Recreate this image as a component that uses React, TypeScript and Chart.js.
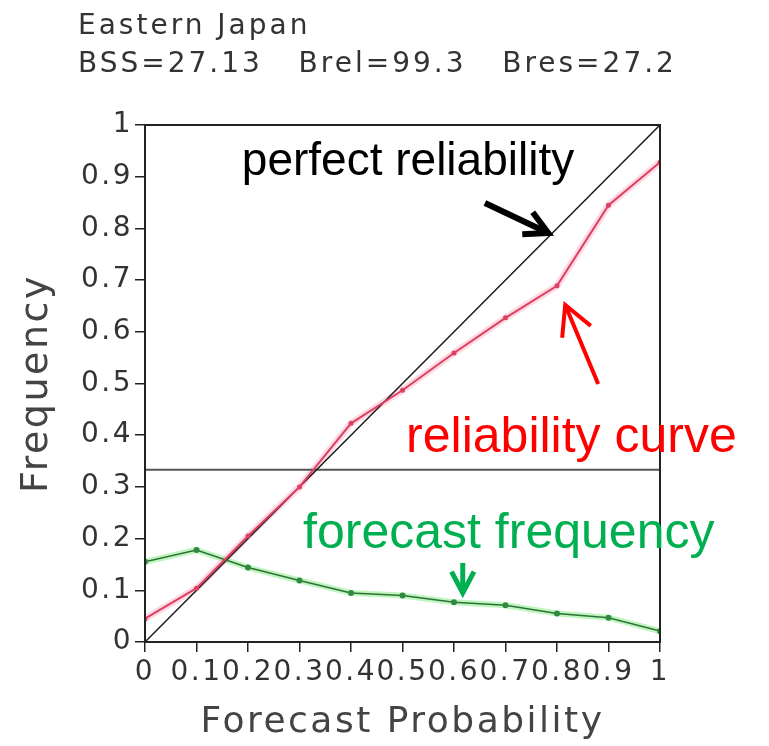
import React, { useEffect, useRef } from 'react';
import { Chart, registerables } from 'chart.js';

Chart.register(...registerables);

// ---- data ----
const probabilityBins = [0, 0.1, 0.2, 0.3, 0.4, 0.5, 0.6, 0.7, 0.8, 0.9, 1];
const observedFrequency = [0.045, 0.104, 0.205, 0.3, 0.423, 0.487, 0.559, 0.627, 0.689, 0.845, 0.928];
const forecastFrequency = [0.155, 0.178, 0.144, 0.119, 0.095, 0.09, 0.077, 0.071, 0.055, 0.047, 0.021];
const perfectX = [0, 1];
const perfectY = [0, 1];
const climatologyX = [0, 1];
const climatologyY = [0.333, 0.333];
const xTickLabels = ['0', '0.1', '0.2', '0.3', '0.4', '0.5', '0.6', '0.7', '0.8', '0.9', '1'];
const yTickLabels = ['0', '0.1', '0.2', '0.3', '0.4', '0.5', '0.6', '0.7', '0.8', '0.9', '1'];
const titleLines = ['Eastern Japan', 'BSS=27.13   Brel=99.3   Bres=27.2'];
const xAxisTitle = 'Forecast Probability';
const yAxisTitle = 'Frequency';

// ---- annotation layout (data units) ----
const annotationTexts = [
  { text: 'perfect reliability', x: 0.188, y: 0.903, color: '#000000', size: 46 },
  { text: 'reliability curve', x: 0.507, y: 0.368, color: '#ff0000', size: 50 },
  { text: 'forecast frequency', x: 0.307, y: 0.182, color: '#00b050', size: 50 },
];
const annotationArrows = [
  { from: [0.66, 0.849], to: [0.783, 0.791], color: '#000000', width: 6, head: 26 },
  { from: [0.88, 0.499], to: [0.816, 0.652], color: '#ff0000', width: 4, head: 33 },
  { from: [0.617, 0.153], to: [0.617, 0.095], color: '#00b050', width: 5, head: 24 },
];

const GRADS_FONT = "'DejaVu Sans', sans-serif";
const ANNOT_FONT = "'Liberation Sans', Arial, sans-serif";

const pairs = (xs: number[], ys: number[]) => xs.map((x, i) => ({ x, y: ys[i] }));

function drawArrow(ctx: CanvasRenderingContext2D, x1: number, y1: number, x2: number, y2: number,
  color: string, width: number, headLen: number) {
  const a = (28 * Math.PI) / 180;
  ctx.strokeStyle = color;
  ctx.lineWidth = width;
  ctx.lineCap = 'butt';
  ctx.lineJoin = 'miter';
  ctx.beginPath();
  ctx.moveTo(x1, y1);
  ctx.lineTo(x2, y2);
  ctx.stroke();
  const ang = Math.atan2(y1 - y2, x1 - x2);
  ctx.beginPath();
  ctx.moveTo(x2 + headLen * Math.cos(ang + a), y2 + headLen * Math.sin(ang + a));
  ctx.lineTo(x2, y2);
  ctx.lineTo(x2 + headLen * Math.cos(ang - a), y2 + headLen * Math.sin(ang - a));
  ctx.stroke();
}

const decorPlugin = {
  id: 'decor',
  beforeUpdate(chart: any) {
    chart.ctx.letterSpacing = '2.5px';
  },
  beforeDraw(chart: any) {
    chart.ctx.letterSpacing = '2.5px';
  },
  afterDraw(chart: any) {
    const { ctx, chartArea: ca, scales } = chart;
    const xs = scales.x;
    const ys = scales.y;
    ctx.save();
    ctx.letterSpacing = '0px';
    // frame
    ctx.strokeStyle = '#222222';
    ctx.lineWidth = 2;
    ctx.strokeRect(ca.left, ca.top, ca.right - ca.left, ca.bottom - ca.top);
    // header lines
    ctx.fillStyle = '#333333';
    ctx.font = `28px ${GRADS_FONT}`;
    ctx.letterSpacing = '3px';
    ctx.textAlign = 'left';
    ctx.textBaseline = 'alphabetic';
    titleLines.forEach((t, i) => ctx.fillText(t, 78, 34 + i * 38));
    ctx.letterSpacing = '0px';
    // annotation texts
    for (const a of annotationTexts) {
      ctx.font = `${a.size}px ${ANNOT_FONT}`;
      ctx.fillStyle = a.color;
      ctx.fillText(a.text, xs.getPixelForValue(a.x), ys.getPixelForValue(a.y));
    }
    for (const ar of annotationArrows) {
      drawArrow(ctx,
        xs.getPixelForValue(ar.from[0]), ys.getPixelForValue(ar.from[1]),
        xs.getPixelForValue(ar.to[0]), ys.getPixelForValue(ar.to[1]),
        ar.color, ar.width, ar.head);
    }
    ctx.restore();
  },
};

export default function App() {
  const ref = useRef<HTMLCanvasElement>(null);
  useEffect(() => {
    const canvas = ref.current;
    if (!canvas) return;
    const chart = new Chart(canvas, {
      type: 'line',
      data: {
        datasets: [
          {
            label: 'reliability curve',
            data: pairs(probabilityBins, observedFrequency),
            borderColor: '#dc4063',
            backgroundColor: '#dc4063',
            borderWidth: 2,
            pointRadius: 2.5,
            pointBorderWidth: 0,
            order: 0,
          },
          {
            label: 'forecast frequency',
            data: pairs(probabilityBins, forecastFrequency),
            borderColor: '#2f6f3a',
            backgroundColor: '#2f8a3f',
            borderWidth: 1.5,
            pointRadius: 3,
            pointBorderWidth: 0,
            order: 1,
          },
          {
            label: 'perfect reliability',
            data: pairs(perfectX, perfectY),
            borderColor: '#1a1a1a',
            borderWidth: 1.5,
            pointRadius: 0,
            order: 2,
          },
          {
            label: 'climatology',
            data: pairs(climatologyX, climatologyY),
            borderColor: '#555555',
            borderWidth: 2,
            pointRadius: 0,
            order: 3,
          },
          {
            label: 'reliability glow',
            data: pairs(probabilityBins, observedFrequency),
            borderColor: 'rgba(255,150,175,0.35)',
            borderWidth: 7,
            pointRadius: 0,
            order: 4,
          },
          {
            label: 'forecast glow',
            data: pairs(probabilityBins, forecastFrequency),
            borderColor: 'rgba(110,235,110,0.45)',
            borderWidth: 6,
            pointRadius: 0,
            order: 5,
          },
        ],
      },
      options: {
        animation: false,
        responsive: true,
        maintainAspectRatio: false,
        layout: { padding: { top: 125, right: 109, left: 0, bottom: 0 } },
        plugins: {
          legend: { display: false },
          tooltip: { enabled: false },
          title: { display: false },
        },
        elements: { line: { tension: 0 } },
        scales: {
          x: {
            type: 'linear',
            min: 0,
            max: 1,
            afterFit: (s: any) => { s.height = 104; },
            border: { display: false },
            grid: { drawOnChartArea: false, drawTicks: true, tickLength: 10, color: '#222222', lineWidth: 1.5 },
            ticks: {
              stepSize: 0.1,
              autoSkip: false,
              maxRotation: 0,
              minRotation: 0,
              padding: 4,
              color: '#333333',
              font: { family: GRADS_FONT, size: 28 },
              callback: (_v: any, i: number) => xTickLabels[i],
            },
            title: {
              display: true,
              text: xAxisTitle,
              color: '#444444',
              font: { family: GRADS_FONT, size: 36 },
              padding: { top: 0, bottom: 2 },
            },
          },
          y: {
            type: 'linear',
            min: 0,
            max: 1,
            afterFit: (s: any) => { s.width = 145; },
            border: { display: false },
            grid: { drawOnChartArea: false, drawTicks: true, tickLength: 10, color: '#222222', lineWidth: 1.5 },
            ticks: {
              stepSize: 0.1,
              autoSkip: false,
              padding: 2,
              color: '#333333',
              font: { family: GRADS_FONT, size: 28 },
              callback: (_v: any, i: number) => yTickLabels[i],
            },
            title: {
              display: true,
              text: yAxisTitle,
              color: '#444444',
              font: { family: GRADS_FONT, size: 38 },
              padding: { top: 14, bottom: 0 },
            },
          },
        },
      },
      plugins: [decorPlugin],
    } as any);
    return () => chart.destroy();
  }, []);
  return (
    <div style={{ position: 'absolute', left: 0, top: 0, width: 769, height: 746, background: '#ffffff' }}>
      <canvas ref={ref} />
    </div>
  );
}
